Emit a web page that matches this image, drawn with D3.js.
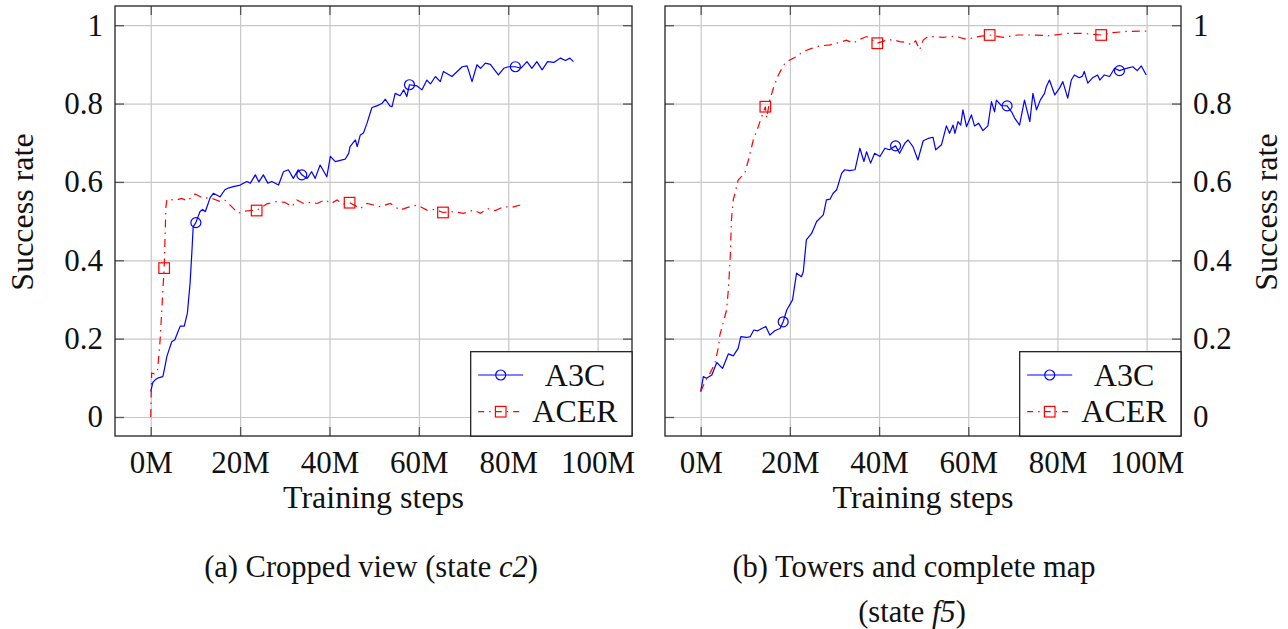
<!DOCTYPE html>
<html>
<head>
<meta charset="utf-8">
<script src="https://cdn.jsdelivr.net/npm/d3@7"></script>
<style>
  body { margin: 0; background: #fff; }
  svg { display: block; }
</style>
</head>
<body>
<div id="chart"></div>
<script>
        // Tick values
        const xTicks = [0, 20, 40, 60, 80, 100];
        const yTicks = [0, 0.2, 0.4, 0.6, 0.8, 1];
        const seriesNames = ['A3C', 'ACER'];

        // (a) Cropped view, state c2  -- [training steps in M, success rate]
        const leftA3C = [[0,0.065],[0.45,0.088],[1.0,0.095],[1.7,0.10],[2.7,0.103],[3.2,0.13],[3.6,0.154],[4.2,0.175],[4.7,0.192],[5.4,0.197],[6.0,0.215],[6.6,0.232],[7.5,0.232],[8.2,0.265],[8.8,0.341],[9.2,0.42],[9.5,0.486],[10.1,0.496],[11,0.524],[11.6,0.53],[12.2,0.524],[13.3,0.56],[14,0.571],[15.5,0.562],[16.6,0.58],[17.5,0.585],[18.5,0.588],[20,0.592],[21.5,0.601],[22.3,0.597],[23.4,0.618],[24.2,0.6],[25.2,0.618],[26.2,0.597],[27.1,0.601],[28.6,0.592],[29.7,0.626],[30.8,0.631],[31.9,0.609],[33,0.631],[33.8,0.618],[35,0.609],[36,0.626],[36.8,0.609],[37.9,0.643],[39.4,0.613],[40.2,0.665],[41.3,0.652],[42.4,0.655],[43.5,0.658],[44.3,0.673],[44.6,0.69],[45.8,0.707],[46.2,0.69],[46.9,0.72],[47.6,0.725],[48.4,0.75],[49.5,0.79],[50.6,0.794],[51.7,0.80],[52.5,0.811],[53.5,0.794],[54,0.792],[54.7,0.826],[55.8,0.82],[56.6,0.835],[57.3,0.818],[57.9,0.848],[59.6,0.845],[60.7,0.835],[61.8,0.86],[62.6,0.85],[63.7,0.869],[64.8,0.856],[65.5,0.882],[67.4,0.869],[69.7,0.894],[70.8,0.896],[71.9,0.856],[73,0.899],[73.8,0.89],[74.9,0.903],[76,0.9],[77.8,0.873],[79,0.89],[80,0.894],[81.6,0.894],[82.8,0.89],[84.2,0.907],[85.3,0.89],[86.4,0.907],[87.6,0.886],[88.8,0.907],[90.2,0.905],[91.7,0.916],[92.8,0.91],[93.8,0.916],[94.6,0.907]];
        const leftACER = [[0,0],[0.2,0.112],[0.8,0.11],[1.5,0.115],[2.1,0.197],[2.6,0.30],[3.0,0.38],[3.4,0.537],[3.6,0.554],[3.9,0.556],[5.5,0.553],[6.9,0.558],[8.2,0.552],[9.9,0.569],[11.8,0.558],[13.3,0.56],[15.5,0.55],[16.6,0.553],[18.1,0.537],[19.6,0.52],[20.7,0.525],[22.3,0.527],[23.7,0.527],[26,0.544],[28.2,0.55],[30,0.548],[31.6,0.537],[32.7,0.554],[34.2,0.545],[35.7,0.548],[37.2,0.545],[39,0.554],[40.4,0.545],[41.7,0.554],[43,0.543],[44.5,0.547],[46.9,0.532],[48.4,0.545],[49.9,0.541],[51.4,0.537],[53.6,0.545],[55.8,0.528],[57.5,0.535],[59.6,0.541],[61.8,0.528],[63.6,0.53],[65.4,0.522],[67.8,0.524],[70,0.52],[72.3,0.528],[73.8,0.52],[75.3,0.532],[77.1,0.527],[79,0.537],[80.8,0.535],[82.7,0.541]];
        const leftA3CMarks = [10.1, 33.8, 57.9, 81.6];
        const leftACERMarks = [3.0, 23.7, 44.5, 65.4];

        // (b) Towers and complete map, state f5
        const rightA3C = [[0,0.065],[0.6,0.103],[1.3,0.099],[2.5,0.107],[3.6,0.139],[4.9,0.124],[6.2,0.161],[7.3,0.156],[8.4,0.175],[9,0.205],[10.3,0.203],[11.1,0.205],[11.9,0.222],[12.8,0.22],[13.7,0.226],[14.6,0.231],[15.5,0.209],[16.6,0.22],[17.8,0.226],[18.5,0.243],[19.3,0.273],[20.6,0.299],[21.5,0.367],[22.6,0.358],[23.0,0.37],[23.7,0.452],[24.9,0.469],[26,0.499],[27.5,0.516],[28.2,0.554],[29,0.556],[29.7,0.571],[30.5,0.58],[31.6,0.622],[32.3,0.631],[33.4,0.629],[34.6,0.631],[35.7,0.686],[36.6,0.652],[37.2,0.677],[38.1,0.648],[39,0.673],[40.2,0.665],[41.3,0.686],[42.3,0.682],[43.7,0.692],[44.6,0.673],[45.8,0.699],[46.5,0.707],[47.6,0.69],[48.7,0.656],[49.9,0.705],[51,0.711],[52.1,0.714],[52.7,0.682],[54,0.695],[55.1,0.743],[55.8,0.724],[56.6,0.745],[57,0.724],[57.7,0.754],[58.3,0.745],[58.8,0.784],[59.6,0.741],[60.7,0.771],[61.4,0.743],[62.3,0.75],[63.3,0.731],[64.4,0.743],[65.2,0.805],[65.9,0.779],[66.3,0.809],[67.4,0.795],[68.7,0.794],[69.7,0.779],[70.4,0.763],[71.5,0.745],[72.6,0.809],[73.8,0.754],[74.5,0.826],[75.3,0.784],[76.2,0.81],[77.1,0.826],[77.5,0.843],[78.2,0.86],[79.4,0.822],[80.5,0.84],[81.2,0.856],[82.3,0.814],[83.1,0.86],[83.8,0.873],[84.9,0.866],[85.6,0.87],[86,0.882],[86.8,0.852],[87.9,0.866],[89,0.873],[89.5,0.86],[90.5,0.873],[91.7,0.869],[92.8,0.89],[93.9,0.884],[95.5,0.89],[96.9,0.894],[97.9,0.884],[98.8,0.896],[99.9,0.873]];
        const rightACER = [[0,0.065],[1,0.09],[2.1,0.112],[3.2,0.137],[4,0.18],[4.3,0.209],[5.8,0.273],[6.2,0.324],[6.6,0.40],[6.9,0.503],[7.3,0.554],[7.7,0.571],[8.4,0.605],[9.9,0.622],[10.7,0.656],[11.8,0.707],[12.9,0.741],[13.7,0.767],[14.5,0.792],[14.8,0.763],[15.5,0.809],[16.3,0.839],[17.4,0.873],[18.9,0.903],[20,0.911],[21.5,0.92],[23,0.933],[24.9,0.941],[26.7,0.947],[29,0.95],[31.2,0.956],[32.7,0.962],[34.2,0.954],[35.7,0.964],[37.2,0.971],[39.6,0.954],[41.7,0.962],[43.2,0.963],[44.6,0.958],[46.1,0.956],[47.3,0.95],[48.2,0.96],[49.1,0.937],[49.9,0.962],[51,0.971],[52.1,0.971],[54.3,0.969],[57,0.972],[59.6,0.964],[61.8,0.97],[64.8,0.975],[67.8,0.969],[71,0.975],[74.5,0.975],[78.2,0.973],[82,0.979],[85.7,0.979],[89.8,0.975],[92.4,0.981],[95.4,0.984],[99.9,0.985]];
        const rightA3CMarks = [18.5, 43.7, 68.7, 93.9];
        const rightACERMarks = [14.5, 39.6, 64.8, 89.8];

        const W = 1288, H = 629;
        const plotTop = 6, plotBottom = 436;
        const blue = '#0000ff', red = '#ff0000';
        const FONT = "'Liberation Serif', 'Times New Roman'";

        const svg = d3.select('#chart').append('svg')
            .attr('width', W).attr('height', H)
            .style('font-family', FONT);
        svg.append('rect').attr('width', W).attr('height', H).attr('fill', '#fff');

        // value on the plotted line at step s (for placing the repeated marks)
        function valueAt(data, s) {
            const i = d3.bisector(d => d[0]).left(data, s);
            if (i <= 0) return data[0][1];
            if (i >= data.length) return data[data.length - 1][1];
            const a = data[i - 1], b = data[i];
            return a[1] + (b[1] - a[1]) * (s - a[0]) / (b[0] - a[0]);
        }

        function drawMark(g, type, cx, cy, color) {
            if (type === 'circle') {
                g.append('circle').attr('cx', cx).attr('cy', cy).attr('r', 5)
                    .attr('fill', 'none').attr('stroke', color).attr('stroke-width', 1.2);
            } else {
                g.append('rect').attr('x', cx - 5.3).attr('y', cy - 5.3)
                    .attr('width', 10.6).attr('height', 10.6)
                    .attr('fill', 'none').attr('stroke', color).attr('stroke-width', 1.2);
            }
        }

        function addText(g, size) {
            return g.append('text').style('font-family', FONT).style('font-size', size + 'px').attr('fill', '#111');
        }

        function drawPanel(p) {
            const x = d3.scaleLinear().domain([-8, 107.7]).range([p.left, p.right]);
            const y = d3.scaleLinear().domain([-0.0485, 1.049]).range([plotBottom, plotTop]);
            const g = svg.append('g');

            // grid
            g.append('g').attr('transform', `translate(0,${plotBottom})`)
                .call(d3.axisBottom(x).tickValues(xTicks).tickSize(-(plotBottom - plotTop)).tickFormat(''))
                .call(a => a.select('.domain').remove())
                .call(a => a.selectAll('text').remove())
                .selectAll('line').attr('stroke', '#c8c8c8').attr('stroke-width', 1.2);
            g.append('g').attr('transform', `translate(${p.left},0)`)
                .call(d3.axisLeft(y).tickValues(yTicks).tickSize(-(p.right - p.left)).tickFormat(''))
                .call(a => a.select('.domain').remove())
                .call(a => a.selectAll('text').remove())
                .selectAll('line').attr('stroke', '#c8c8c8').attr('stroke-width', 1.2);

            // series
            const line = d3.line().x(d => x(d[0])).y(d => y(d[1]));
            g.append('path').datum(p.a3c).attr('d', line)
                .attr('fill', 'none').attr('stroke', blue).attr('stroke-width', 1.2)
                .attr('stroke-linejoin', 'round');
            g.append('path').datum(p.acer).attr('d', line)
                .attr('fill', 'none').attr('stroke', red).attr('stroke-width', 1.2)
                .attr('stroke-dasharray', '8,5,1.5,5');
            p.a3cMarks.forEach(s => drawMark(g, 'circle', x(s), y(valueAt(p.a3c, s)), blue));
            p.acerMarks.forEach(s => drawMark(g, 'square', x(s), y(valueAt(p.acer, s)), red));

            // inner tick marks on all four sides
            const tickStyle = a => {
                a.select('.domain').remove();
                a.selectAll('text').remove();
                a.selectAll('line').attr('stroke', '#555').attr('stroke-width', 1.3);
            };
            g.append('g').attr('transform', `translate(0,${plotBottom})`)
                .call(d3.axisBottom(x).tickValues(xTicks).tickSize(-9).tickFormat('')).call(tickStyle);
            g.append('g').attr('transform', `translate(0,${plotTop})`)
                .call(d3.axisTop(x).tickValues(xTicks).tickSize(-9).tickFormat('')).call(tickStyle);
            g.append('g').attr('transform', `translate(${p.left},0)`)
                .call(d3.axisLeft(y).tickValues(yTicks).tickSize(-9).tickFormat('')).call(tickStyle);
            g.append('g').attr('transform', `translate(${p.right},0)`)
                .call(d3.axisRight(y).tickValues(yTicks).tickSize(-9).tickFormat('')).call(tickStyle);

            // frame
            g.append('rect').attr('x', p.left).attr('y', plotTop)
                .attr('width', p.right - p.left).attr('height', plotBottom - plotTop)
                .attr('fill', 'none').attr('stroke', '#222').attr('stroke-width', 1.3);

            // tick labels
            const labelStyle = a => {
                a.attr('font-family', null).attr('font-size', null);
                a.select('.domain').remove();
                a.selectAll('line').remove();
                a.selectAll('text').attr('fill', '#111')
                    .style('font-family', FONT).style('font-size', '31px');
            };
            g.append('g').attr('transform', `translate(0,${plotBottom})`)
                .call(d3.axisBottom(x).tickValues(xTicks).tickSize(0).tickPadding(15).tickFormat(d => d + 'M'))
                .call(labelStyle);
            const yAxis = p.side === 'left'
                ? d3.axisLeft(y).tickValues(yTicks).tickSize(0).tickPadding(12)
                : d3.axisRight(y).tickValues(yTicks).tickSize(0).tickPadding(12);
            g.append('g').attr('transform', `translate(${p.side === 'left' ? p.left : p.right},0)`)
                .call(yAxis.tickFormat(d3.format('~g')))
                .call(labelStyle);

            // axis titles
            addText(g, 32).attr('x', (p.left + p.right) / 2).attr('y', 508)
                .attr('text-anchor', 'middle').text('Training steps');
            addText(g, 32)
                .attr('transform', `translate(${p.side === 'left' ? 33 : 1277},212) rotate(-90)`)
                .attr('text-anchor', 'middle').text('Success rate');

            // legend
            const lx = p.right - 161.3, ly = 351.7;
            const leg = g.append('g');
            leg.append('rect').attr('x', lx).attr('y', ly).attr('width', 161.3).attr('height', plotBottom - ly)
                .attr('fill', '#fff').attr('stroke', '#111').attr('stroke-width', 1.2);
            const rows = [
                { name: seriesNames[0], color: blue, mark: 'circle', dash: null, yy: ly + 23.3 },
                { name: seriesNames[1], color: red, mark: 'square', dash: '6,5,1.5,5', yy: ly + 60 }
            ];
            rows.forEach(r => {
                leg.append('line').attr('x1', lx + 7.5).attr('x2', lx + 52.5)
                    .attr('y1', r.yy).attr('y2', r.yy)
                    .attr('stroke', r.color).attr('stroke-width', 1.2)
                    .attr('stroke-dasharray', r.dash);
                drawMark(leg, r.mark, lx + 30, r.yy, r.color);
                addText(leg, 32).attr('x', lx + 104.3).attr('y', r.yy + 10.5)
                    .attr('text-anchor', 'middle').text(r.name);
            });
        }

        drawPanel({ left: 115, right: 632, side: 'left',
            a3c: leftA3C, acer: leftACER, a3cMarks: leftA3CMarks, acerMarks: leftACERMarks });
        drawPanel({ left: 665, right: 1181, side: 'right',
            a3c: rightA3C, acer: rightACER, a3cMarks: rightA3CMarks, acerMarks: rightACERMarks });

        // sub-captions
        const cap = svg.append('g').attr('text-anchor', 'middle');
        const c1 = addText(cap, 30.5).attr('x', 371).attr('y', 577);
        c1.append('tspan').text('(a) Cropped view (state ');
        c1.append('tspan').attr('font-style', 'italic').text('c2');
        c1.append('tspan').text(')');
        addText(cap, 30.5).attr('x', 914).attr('y', 577).text('(b) Towers and complete map');
        const c2 = addText(cap, 30.5).attr('x', 912).attr('y', 622);
        c2.append('tspan').text('(state ');
        c2.append('tspan').attr('font-style', 'italic').text('f5');
        c2.append('tspan').text(')');
</script>
</body>
</html>
